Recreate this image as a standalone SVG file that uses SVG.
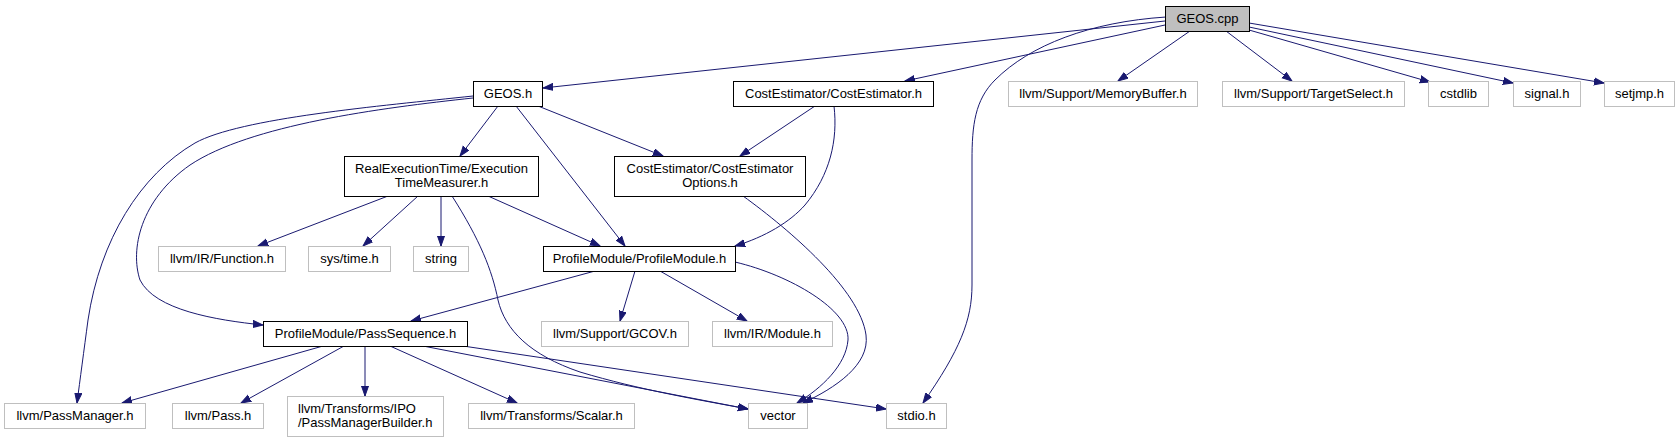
<svg xmlns="http://www.w3.org/2000/svg" width="1680" height="443" viewBox="0 0 1680 443">
<style>
.n{fill:#fff;stroke:#000;stroke-width:1}
.x{fill:#fff;stroke:#bfbfbf;stroke-width:1}
.r{fill:#bfbfbf;stroke:#000;stroke-width:1}
text{font-family:"Liberation Sans",Arial,sans-serif;font-size:13px;fill:#000;text-anchor:middle}
.l{text-anchor:start}
.e{fill:none;stroke:#191970;stroke-width:1;marker-end:url(#a)}
</style>
<defs>
<marker id="a" markerWidth="11" markerHeight="9" refX="10" refY="4" orient="auto" markerUnits="userSpaceOnUse">
<path d="M0,0.5 L10,4 L0,7.5 z" fill="#191970" stroke="#191970" stroke-width="1"/>
</marker>
</defs>
<rect width="1680" height="443" fill="#fff"/>
<g id="edges">
<path class="e" d="M1165,21 L543,88"/>
<path class="e" d="M1165,25 L905,81"/>
<path class="e" d="M1166,17 C1090,22 1030,45 995,80 C975,100 972,125 972,160 L972,285 C972,320 960,350 923,403"/>
<path class="e" d="M1190,31 L1118,81"/>
<path class="e" d="M1226,31 L1292,81"/>
<path class="e" d="M1249,30 L1430,82"/>
<path class="e" d="M1249,27 L1513,83"/>
<path class="e" d="M1249,23 L1604,83"/>
<path class="e" d="M473,96 C380,106 240,118 195,143 C140,175 100,240 88,320 C84,350 80,380 77,403"/>
<path class="e" d="M473,98 C380,108 250,125 190,165 C140,200 130,250 140,280 C155,310 215,320 263,325"/>
<path class="e" d="M498,106 L460,156"/>
<path class="e" d="M516,106 L625,246"/>
<path class="e" d="M538,106 L663,156"/>
<path class="e" d="M815,106 L740,156"/>
<path class="e" d="M834,106 C838,140 830,175 805,205 C790,222 765,237 735,246"/>
<path class="e" d="M743,196 C790,230 860,290 866,335 C870,365 835,388 803,403"/>
<path class="e" d="M735,262 C790,275 850,310 848,340 C846,365 822,388 797,403"/>
<path class="e" d="M388,196 L258,246"/>
<path class="e" d="M418,196 L363,246"/>
<path class="e" d="M441,196 L441,246"/>
<path class="e" d="M452,196 C480,240 492,270 498,300 C505,330 530,355 580,372 C640,390 700,400 748,409"/>
<path class="e" d="M488,196 L600,246"/>
<path class="e" d="M595,271 L411,321"/>
<path class="e" d="M635,271 L620,321"/>
<path class="e" d="M660,271 L747,321"/>
<path class="e" d="M323,346 L122,403"/>
<path class="e" d="M344,346 L241,403"/>
<path class="e" d="M365,346 L365,396"/>
<path class="e" d="M390,346 L517,403"/>
<path class="e" d="M423,346 L748,409"/>
<path class="e" d="M463,346 L886,409"/>
</g>
<g id="geos_cpp"><rect class="r" x="1165.5" y="6.5" width="84" height="25"/><text x="1207.5" y="23">GEOS.cpp</text></g>
<g id="geos_h"><rect class="n" x="473.5" y="81.5" width="69" height="25"/><text x="508" y="98">GEOS.h</text></g>
<g id="costestimator_h"><rect class="n" x="733.5" y="81.5" width="200" height="25"/><text x="833.5" y="98">CostEstimator/CostEstimator.h</text></g>
<g id="memorybuffer_h"><rect class="x" x="1008.5" y="81.5" width="189" height="25"/><text x="1103" y="98">llvm/Support/MemoryBuffer.h</text></g>
<g id="targetselect_h"><rect class="x" x="1222.5" y="81.5" width="182" height="25"/><text x="1313.5" y="98">llvm/Support/TargetSelect.h</text></g>
<g id="cstdlib"><rect class="x" x="1428.5" y="81.5" width="60" height="25"/><text x="1458.5" y="98">cstdlib</text></g>
<g id="signal_h"><rect class="x" x="1513.5" y="81.5" width="67" height="25"/><text x="1547" y="98">signal.h</text></g>
<g id="setjmp_h"><rect class="x" x="1604.5" y="81.5" width="70" height="25"/><text x="1639.5" y="98">setjmp.h</text></g>
<g id="exectime_h"><rect class="n" x="344.5" y="156.5" width="194" height="40"/><text x="441.5" y="172.5">RealExecutionTime/Execution</text><text x="441.5" y="186.5">TimeMeasurer.h</text></g>
<g id="costoptions_h"><rect class="n" x="614.5" y="156.5" width="191" height="40"/><text x="710" y="172.5">CostEstimator/CostEstimator</text><text x="710" y="186.5">Options.h</text></g>
<g id="function_h"><rect class="x" x="158.5" y="246.5" width="127" height="25"/><text x="222" y="263">llvm/IR/Function.h</text></g>
<g id="systime_h"><rect class="x" x="308.5" y="246.5" width="82" height="25"/><text x="349.5" y="263">sys/time.h</text></g>
<g id="string"><rect class="x" x="413.5" y="246.5" width="55" height="25"/><text x="441" y="263">string</text></g>
<g id="profilemodule_h"><rect class="n" x="543.5" y="246.5" width="192" height="25"/><text x="639.5" y="263">ProfileModule/ProfileModule.h</text></g>
<g id="passsequence_h"><rect class="n" x="263.5" y="321.5" width="204" height="25"/><text x="365.5" y="338">ProfileModule/PassSequence.h</text></g>
<g id="gcov_h"><rect class="x" x="541.5" y="321.5" width="147" height="25"/><text x="615" y="338">llvm/Support/GCOV.h</text></g>
<g id="module_h"><rect class="x" x="712.5" y="321.5" width="120" height="25"/><text x="772.5" y="338">llvm/IR/Module.h</text></g>
<g id="passmanager_h"><rect class="x" x="4.5" y="403.5" width="141" height="25"/><text x="75" y="420">llvm/PassManager.h</text></g>
<g id="pass_h"><rect class="x" x="172.5" y="403.5" width="91" height="25"/><text x="218" y="420">llvm/Pass.h</text></g>
<g id="passmanagerbuilder_h"><rect class="x" x="287.5" y="396.5" width="156" height="40"/><text class="l" x="298" y="412.5">llvm/Transforms/IPO</text><text class="l" x="298" y="426.5">/PassManagerBuilder.h</text></g>
<g id="scalar_h"><rect class="x" x="468.5" y="403.5" width="166" height="25"/><text x="551.5" y="420">llvm/Transforms/Scalar.h</text></g>
<g id="vector"><rect class="x" x="748.5" y="403.5" width="59" height="25"/><text x="778" y="420">vector</text></g>
<g id="stdio_h"><rect class="x" x="886.5" y="403.5" width="60" height="25"/><text x="916.5" y="420">stdio.h</text></g>
</svg>
